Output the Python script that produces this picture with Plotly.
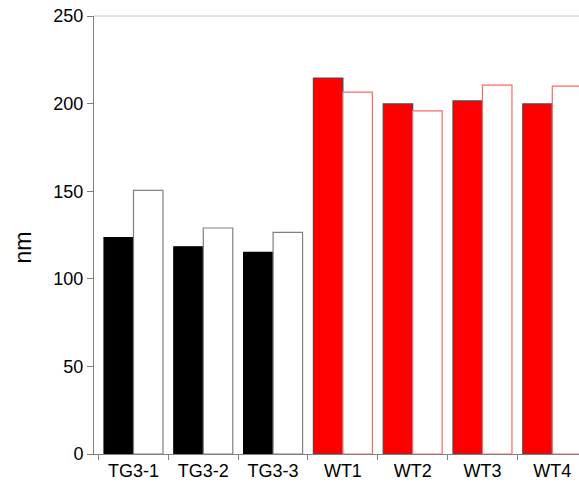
import plotly.graph_objects as go

categories = ["TG3-1", "TG3-2", "TG3-3", "WT1", "WT2", "WT3", "WT4"]
filled_values = [123.5, 118.3, 115.1, 214.6, 199.8, 201.5, 199.8]
open_values = [150.5, 129.0, 126.5, 206.6, 195.8, 210.6, 210.0]
is_wt = [False, False, False, True, True, True, True]
y_ticks = [0, 50, 100, 150, 200, 250]

fill_colors = ["#ff0000" if w else "#000000" for w in is_wt]
fill_lines = ["#4a4a4a" if w else "#000000" for w in is_wt]
open_lines = ["#ff6666" if w else "#808080" for w in is_wt]

W, H = 579, 483
L, T, B = 94, 16, 29

fig = go.Figure()
fig.add_trace(go.Bar(x=categories, y=filled_values,
                     marker=dict(color=fill_colors, line=dict(color=fill_lines, width=1.2))))
fig.add_trace(go.Bar(x=categories, y=open_values,
                     marker=dict(color="#ffffff", line=dict(color=open_lines, width=1.2))))

plot_w = W - L
plot_h = H - T - B

fig.update_layout(
    width=W, height=H,
    margin=dict(l=L, r=0, t=T, b=B),
    paper_bgcolor="white", plot_bgcolor="white",
    barmode="group", bargap=0.155, bargroupgap=0,
    showlegend=False,
    font=dict(family="Liberation Sans, Arial, sans-serif", color="#000000"),
    xaxis=dict(type="category", range=[-0.566, 6.383], tickson="boundaries",
               ticks="outside", ticklen=5, tickcolor="#808080",
               showline=True, linecolor="#808080", linewidth=1,
               showgrid=False, tickfont=dict(size=18), zeroline=False),
    yaxis=dict(range=[0, 250], tickvals=y_ticks, ticks="outside", ticklen=6,
               tickcolor="#808080", showline=True, linecolor="#808080", linewidth=1,
               showgrid=False, zeroline=False, tickfont=dict(size=18)),
    shapes=[dict(type="line", xref="paper", yref="paper", x0=0, x1=1, y0=1, y1=1,
                 line=dict(color="#c4c4c4", width=1))],
    annotations=[dict(text="nm", xref="paper", yref="paper", x=(23 - L) / plot_w,
                      y=(H - B - 247.5) / plot_h, showarrow=False, textangle=-90,
                      font=dict(size=23), xanchor="center", yanchor="middle")],
)

fig.write_html("out.html", config={"displayModeBar": False},
               post_script="document.body.style.margin='0';document.body.style.overflow='hidden';")
